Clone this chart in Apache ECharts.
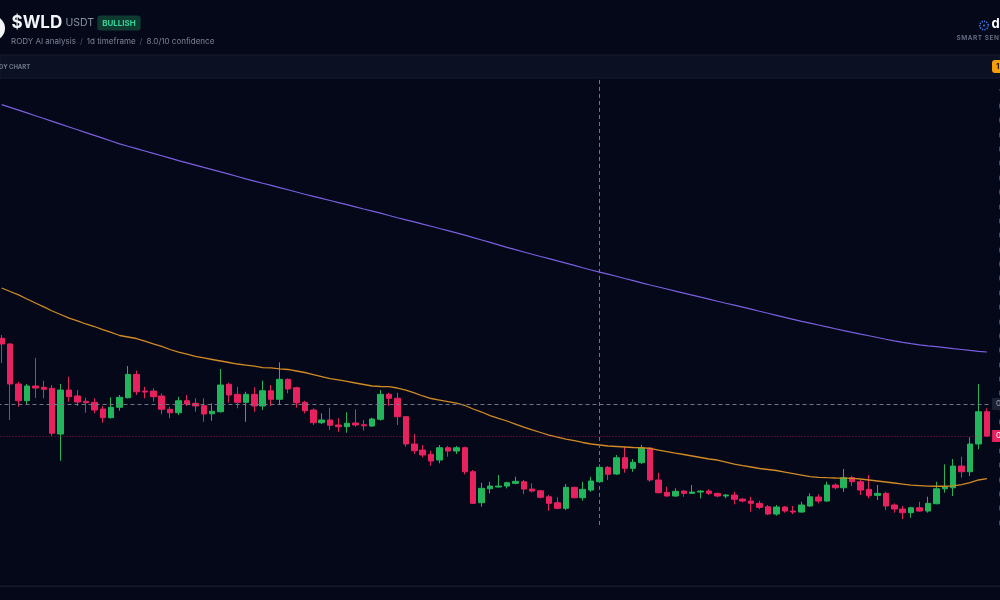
<!DOCTYPE html>
<html><head><meta charset="utf-8">
<script src="https://cdn.jsdelivr.net/npm/echarts@6/dist/echarts.min.js"></script>
<style>html,body{margin:0;padding:0;background:#050818;}#c{width:1000px;height:600px;}</style>
</head><body><div id="c"></div>
<script>
// ---- data ----
const candles = [
[0.6575,0.6496,0.6231,0.6621],[0.6496,0.5939,0.5438,0.6505],[0.5939,0.5706,0.5623,0.5971],[0.5706,0.5911,0.5647,0.5939],
[0.5911,0.5883,0.5744,0.6301],[0.5893,0.5865,0.5740,0.5985],[0.5879,0.5253,0.5215,0.5925],[0.5243,0.5855,0.4871,0.5939],
[0.5855,0.5762,0.5692,0.6040],[0.5772,0.5688,0.5633,0.5855],[0.5698,0.5678,0.5539,0.5748],[0.5684,0.5577,0.5531,0.5740],
[0.5591,0.5470,0.5400,0.5633],[0.5470,0.5615,0.5459,0.5754],[0.5615,0.5754,0.5567,0.5786],[0.5748,0.6073,0.5737,0.6189],
[0.6073,0.5831,0.5786,0.6124],[0.5841,0.5827,0.5740,0.5901],[0.5841,0.5762,0.5692,0.5879],[0.5772,0.5587,0.5517,0.5809],
[0.5587,0.5539,0.5462,0.5623],[0.5539,0.5706,0.5507,0.5762],[0.5706,0.5660,0.5633,0.5786],[0.5670,0.5633,0.5553,0.5740],
[0.5637,0.5521,0.5414,0.5740],[0.5525,0.5559,0.5428,0.5670],[0.5553,0.5925,0.5542,0.6148],[0.5935,0.5786,0.5678,0.5957],
[0.5795,0.5684,0.5601,0.5901],[0.5684,0.5795,0.5414,0.5831],[0.5795,0.5633,0.5553,0.5893],[0.5633,0.5845,0.5577,0.5985],
[0.5845,0.5726,0.5633,0.5925],[0.5726,0.6004,0.5660,0.6241],[0.6004,0.5869,0.5809,0.6018],[0.5887,0.5678,0.5609,0.5901],
[0.5684,0.5567,0.5531,0.5706],[0.5577,0.5400,0.5368,0.5601],[0.5400,0.5438,0.5382,0.5531],[0.5438,0.5364,0.5299,0.5609],
[0.5368,0.5345,0.5275,0.5462],[0.5345,0.5392,0.5261,0.5545],[0.5396,0.5368,0.5345,0.5587],[0.5372,0.5358,0.5289,0.5438],
[0.5354,0.5452,0.5340,0.5470],[0.5448,0.5795,0.5428,0.5855],[0.5795,0.5740,0.5633,0.5817],[0.5740,0.5484,0.5368,0.5817],
[0.5484,0.5104,0.5066,0.5493],[0.5104,0.5010,0.4965,0.5243],[0.5020,0.4951,0.4919,0.5090],[0.4960,0.4867,0.4802,0.5010],
[0.4881,0.5052,0.4835,0.5090],[0.5052,0.5006,0.4927,0.5076],[0.5006,0.5052,0.4965,0.5076],[0.5052,0.4718,0.4682,0.5066],
[0.4718,0.4278,0.4268,0.4742],[0.4287,0.4487,0.4231,0.4565],[0.4481,0.4519,0.4417,0.4579],[0.4505,0.4519,0.4498,0.4672],
[0.4519,0.4565,0.4487,0.4579],[0.4556,0.4584,0.4543,0.4648],[0.4579,0.4477,0.4408,0.4603],[0.4477,0.4449,0.4431,0.4556],
[0.4453,0.4362,0.4348,0.4463],[0.4370,0.4278,0.4175,0.4394],[0.4287,0.4209,0.4195,0.4362],[0.4209,0.4501,0.4185,0.4547],
[0.4501,0.4356,0.4348,0.4509],[0.4356,0.4473,0.4314,0.4579],[0.4463,0.4589,0.4439,0.4648],[0.4579,0.4779,0.4570,0.4821],
[0.4779,0.4682,0.4603,0.4797],[0.4686,0.4913,0.4672,0.4951],[0.4913,0.4765,0.4704,0.5066],[0.4765,0.4849,0.4718,0.4895],
[0.4844,0.5048,0.4825,0.5090],[0.5048,0.4603,0.4579,0.5055],[0.4603,0.4426,0.4417,0.4704],[0.4431,0.4380,0.4370,0.4509],
[0.4380,0.4445,0.4370,0.4487],[0.4449,0.4417,0.4370,0.4463],[0.4417,0.4435,0.4408,0.4533],[0.4435,0.4449,0.4348,0.4463],
[0.4449,0.4417,0.4394,0.4473],[0.4417,0.4380,0.4362,0.4426],[0.4380,0.4394,0.4348,0.4408],[0.4394,0.4334,0.4264,0.4439],
[0.4338,0.4310,0.4292,0.4348],[0.4310,0.4278,0.4162,0.4370],[0.4278,0.4222,0.4195,0.4314],[0.4231,0.4129,0.4115,0.4255],
[0.4129,0.4227,0.4106,0.4255],[0.4227,0.4171,0.4148,0.4241],[0.4171,0.4157,0.4129,0.4241],[0.4157,0.4255,0.4148,0.4300],
[0.4241,0.4370,0.4231,0.4417],[0.4366,0.4310,0.4278,0.4403],[0.4310,0.4533,0.4300,0.4579],[0.4533,0.4495,0.4473,0.4556],
[0.4495,0.4635,0.4439,0.4756],[0.4635,0.4579,0.4519,0.4658],[0.4579,0.4463,0.4394,0.4603],[0.4473,0.4384,0.4348,0.4672],
[0.4389,0.4417,0.4324,0.4533],[0.4417,0.4241,0.4185,0.4439],[0.4255,0.4199,0.4148,0.4278],[0.4199,0.4148,0.4059,0.4241],
[0.4148,0.4217,0.4078,0.4231],[0.4217,0.4171,0.4162,0.4300],[0.4171,0.4278,0.4148,0.4370],[0.4273,0.4481,0.4264,0.4579],
[0.4481,0.4509,0.4426,0.4821],[0.4495,0.4797,0.4380,0.4895],[0.4797,0.4718,0.4635,0.4927],[0.4718,0.5104,0.4658,0.5197],
[0.5104,0.5553,0.5030,0.5939],[0.5553,0.5215,0.5205,0.5601]
];
const maShort = [
0.7275,0.7226,0.7178,0.7122,0.7066,0.7011,0.6955,0.6906,0.6857,0.6816,0.6774,0.6739,0.6697,0.6656,0.6614,0.6593,0.6572,0.6537,0.6496,0.6461,
0.6419,0.6384,0.6356,0.6322,0.6301,0.6280,0.6259,0.6238,0.6217,0.6203,0.6189,0.6168,0.6162,0.6148,0.6141,0.6120,0.6099,0.6071,0.6043,0.6015,
0.5995,0.5974,0.5953,0.5932,0.5911,0.5904,0.5901,0.5883,0.5855,0.5814,0.5772,0.5737,0.5716,0.5695,0.5674,0.5640,0.5591,0.5549,0.5500,0.5459,
0.5424,0.5382,0.5340,0.5299,0.5264,0.5229,0.5201,0.5173,0.5152,0.5125,0.5104,0.5090,0.5076,0.5069,0.5062,0.5055,0.5052,0.5044,0.5020,0.4999,
0.4978,0.4958,0.4937,0.4916,0.4895,0.4881,0.4853,0.4825,0.4804,0.4784,0.4763,0.4749,0.4735,0.4714,0.4693,0.4672,0.4651,0.4640,0.4635,0.4631,
0.4628,0.4625,0.4617,0.4603,0.4589,0.4575,0.4561,0.4547,0.4533,0.4526,0.4519,0.4516,0.4516,0.4522,0.4540,0.4568,0.4603,0.4623
];
const maLong = [
0.9827,0.9789,0.9750,0.9711,0.9672,0.9633,0.9594,0.9555,0.9516,0.9477,0.9438,0.9399,0.9360,0.9321,0.9281,0.9247,0.9215,0.9182,0.9148,0.9115,
0.9082,0.9048,0.9017,0.8985,0.8953,0.8923,0.8891,0.8859,0.8827,0.8793,0.8763,0.8732,0.8703,0.8672,0.8642,0.8611,0.8580,0.8551,0.8522,0.8493,
0.8464,0.8434,0.8404,0.8374,0.8345,0.8316,0.8284,0.8253,0.8224,0.8194,0.8163,0.8134,0.8103,0.8074,0.8043,0.8010,0.7976,0.7943,0.7910,0.7876,
0.7841,0.7808,0.7776,0.7744,0.7713,0.7683,0.7652,0.7622,0.7590,0.7557,0.7525,0.7496,0.7467,0.7438,0.7407,0.7378,0.7347,0.7317,0.7289,0.7261,
0.7232,0.7204,0.7176,0.7148,0.7120,0.7091,0.7063,0.7036,0.7008,0.6980,0.6951,0.6923,0.6895,0.6867,0.6839,0.6810,0.6785,0.6760,0.6734,0.6708,
0.6682,0.6657,0.6633,0.6610,0.6586,0.6562,0.6540,0.6519,0.6500,0.6484,0.6470,0.6458,0.6445,0.6431,0.6419,0.6406,0.6394,0.6384
];
const startDate = '2025-07-01';
const categories = [];
(function(){ const d = new Date(startDate + 'T00:00:00Z'); for (let i = 0; i < candles.length; i++) { categories.push(d.toISOString().slice(0,10)); d.setUTCDate(d.getUTCDate()+1);} })();
const crosshairIndex = 71;
const crosshairPrice = 0.5660;
const crosshairSpan = [1.017, 0.3935];
const lastPrice = 0.5215;
const yTicks = {min: 0.38, max: 1.02, interval: 0.02};

// ---- style ----
const UP = '#22b55b', DOWN = '#e8215f', BG = '#050818';
const chart = echarts.init(document.getElementById('c'), null, {renderer: 'canvas'});
const FONT = 'Inter, "Noto Sans", sans-serif';

chart.setOption({
  backgroundColor: BG,
  animation: false,
  grid: {left: -2.5, right: 8.9, top: 77.8, bottom: 62.3, containLabel: false, outerBoundsMode: 'none'},
  xAxis: {type: 'category', data: categories, boundaryGap: true,
    axisLine: {show: false}, axisTick: {show: false}, axisLabel: {show: false}, splitLine: {show: false}},
  yAxis: {type: 'value', position: 'right', min: yTicks.min, max: yTicks.max, interval: yTicks.interval,
    axisLine: {show: false}, axisTick: {show: false}, splitLine: {show: false},
    axisLabel: {show: true, showMinLabel: false, showMaxLabel: false, margin: 7.5, fontSize: 8, color: '#5d6478', fontFamily: FONT,
      formatter: v => v.toFixed(4)}},
  series: [
    {type: 'candlestick', data: candles, barWidth: 6, z: 3,
      itemStyle: {color: UP, color0: DOWN, borderColor: UP, borderColor0: DOWN, borderWidth: 1},
      markLine: {symbol: ['none','none'], silent: true, animation: false, precision: 4,
        data: [
          [{coord: [categories[crosshairIndex], crosshairSpan[0]], lineStyle: {color: '#6f7587', type: [4,3], width: 1}, label: {show: false}},
           {coord: [categories[crosshairIndex], crosshairSpan[1]]}],
          {yAxis: crosshairPrice, lineStyle: {color: '#6f7587', type: [4,3], width: 1},
            label: {show: true, position: 'end', distance: 1, formatter: p => Number(p.value).toFixed(4), color: '#9aa1b2', fontSize: 8,
              backgroundColor: '#1c2233', padding: [2,3,2,4], fontFamily: FONT}},
          {yAxis: lastPrice, lineStyle: {color: 'rgba(232,33,95,0.6)', type: [1,2], width: 1},
            label: {show: true, position: 'end', distance: 1, formatter: p => Number(p.value).toFixed(4), color: '#ffffff', fontSize: 8,
              backgroundColor: '#e8215f', padding: [2,3,2,4], fontFamily: FONT}}
        ]}},
    {type: 'line', data: maShort, showSymbol: false, symbol: 'none', z: 4,
      lineStyle: {color: '#d08a26', width: 1.3}},
    {type: 'line', data: maLong, showSymbol: false, symbol: 'none', z: 4,
      lineStyle: {color: '#7a5fe0', width: 1.2}}
  ],
  graphic: [
    {type: 'rect', shape: {x: 0, y: 55, width: 1000, height: 23}, style: {fill: '#0b1122', stroke: '#161d2f', lineWidth: 1}, z: 1},
    {type: 'text', x: -9.5, y: 67, style: {text: 'RODY CHART', fill: '#6f778b', font: 'bold 6px ' + FONT, textVerticalAlign: 'middle'}, z: 2},
    {type: 'rect', shape: {x: 992, y: 60, width: 22, height: 13, r: 3}, style: {fill: '#f59e0b'}, z: 2},
    {type: 'text', x: 996, y: 66.5, style: {text: '1D', fill: '#1a1203', font: 'bold 8px ' + FONT, textVerticalAlign: 'middle'}, z: 3},
    {type: 'circle', shape: {cx: -7.5, cy: 28.3, r: 12.5}, style: {fill: '#f4f5f7'}, z: 2},
    {type: 'text', x: 11.5, y: 31, style: {text: '$WLD', fill: '#f3f5f9', font: 'bold 17px ' + FONT, textVerticalAlign: 'bottom'}, z: 2},
    {type: 'text', x: 65.5, y: 28.8, style: {text: 'USDT', fill: '#8a92a6', font: '10.5px ' + FONT, textVerticalAlign: 'bottom'}, z: 2},
    {type: 'rect', shape: {x: 97.3, y: 15.6, width: 43.4, height: 15, r: 3}, style: {fill: '#0e3a30'}, z: 2},
    {type: 'text', x: 119, y: 23.3, style: {text: 'BULLISH', fill: '#34d399', font: 'bold 8px ' + FONT, textAlign: 'center', textVerticalAlign: 'middle'}, z: 3},
    {type: 'text', x: 11, y: 41.5, style: {
      text: '{a|RODY AI analysis}{s|/}{a|1d timeframe}{s|/}{a|8.0/10 confidence}',
      textVerticalAlign: 'middle',
      rich: {a: {fill: '#7b8398', font: '8px ' + FONT}, s: {fill: '#4a5265', font: '8px ' + FONT, padding: [0, 4, 0, 4]}}}, z: 2},
    {type: 'circle', shape: {cx: 984, cy: 25.5, r: 4.2}, style: {fill: 'none', stroke: '#3b82f6', lineWidth: 1.6, lineDash: [1.2,1.2]}, z: 2},
    {type: 'circle', shape: {cx: 984, cy: 25.5, r: 1}, style: {fill: '#3b82f6'}, z: 2},
    {type: 'text', x: 991.5, y: 31, style: {text: 'dyor', fill: '#ffffff', font: 'bold 13px ' + FONT, textVerticalAlign: 'bottom'}, z: 2},
    {type: 'text', x: 956.5, y: 38.5, style: {text: 'S\u200aM\u200aA\u200aR\u200aT\u2009 S\u200aE\u200aN\u200aT', fill: '#6b7388', font: '600 6.5px ' + FONT, textVerticalAlign: 'middle'}, z: 2},
    {type: 'rect', shape: {x: 0, y: 585.5, width: 1000, height: 1.5}, style: {fill: '#141a2c'}, z: 2}
  ]
});
</script></body></html>
